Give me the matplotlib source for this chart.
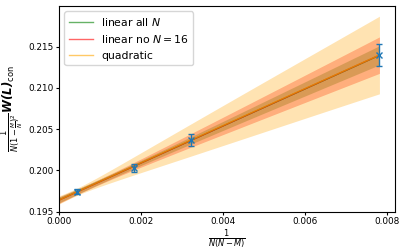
import numpy as np
import matplotlib
matplotlib.use("Agg")
import matplotlib.pyplot as plt

# data points
x_data = [0.000447, 0.00184, 0.00321, 0.00782]
y_data = [0.19742, 0.20026, 0.20369, 0.21400]
y_err = [0.0003, 0.0005, 0.0007, 0.0013]

# fit parameters (intercept, slope[, curvature]) and uncertainties
lin_all = [0.19642, 2.24]
lin_all_sig = [0.00035, 0.17]
lin_all_rho = -0.6

lin_no16 = [0.19640, 2.245]
lin_no16_sig = [0.0004, 0.31]
lin_no16_rho = -0.6

quad = [0.19642, 2.26, -2.0]
quad_sig = [0.0005, 0.72, 40.0]
quad_rho = {"ab": -0.5, "ac": 0.3, "bc": -0.5}

labels = ["linear all $N$", "linear no $N=16$", "quadratic"]
colors = ["green", "red", "orange"]

fig = plt.figure(figsize=(4.07, 2.52), dpi=100)
ax = fig.add_axes([0.145, 0.16, 0.8255, 0.816])

xs = np.linspace(0, max(x_data), 200)

def lin_band(p, s, r):
    y = p[0] + p[1] * xs
    var = s[0]**2 + xs**2 * s[1]**2 + 2 * xs * r * s[0] * s[1]
    return y, np.sqrt(var)

def quad_band(p, s, r):
    y = p[0] + p[1] * xs + p[2] * xs**2
    var = (s[0]**2 + xs**2 * s[1]**2 + xs**4 * s[2]**2
           + 2 * xs * r["ab"] * s[0] * s[1]
           + 2 * xs**2 * r["ac"] * s[0] * s[2]
           + 2 * xs**3 * r["bc"] * s[1] * s[2])
    return y, np.sqrt(var)

fits = [lin_band(lin_all, lin_all_sig, lin_all_rho),
        lin_band(lin_no16, lin_no16_sig, lin_no16_rho),
        quad_band(quad, quad_sig, quad_rho)]

for (y, s), c, lab in zip(fits, colors, labels):
    ax.plot(xs, y, color=c, alpha=0.6, lw=1.0, label=lab)
    ax.fill_between(xs, y - s, y + s, color=c, alpha=0.3, lw=0)

ax.errorbar(x_data, y_data, yerr=y_err, fmt="x", color="C0", ms=4,
            capsize=2, elinewidth=1, mew=1)

ax.set_xlim(0, 0.0082)
ax.set_ylim(0.195, 0.2199)
ax.set_xticks([0.0, 0.002, 0.004, 0.006, 0.008])
ax.set_yticks([0.195, 0.200, 0.205, 0.210, 0.215])
ax.tick_params(labelsize=6.4, length=2.5, pad=1.5)
ax.set_xlabel(r"$\frac{1}{N(N-M)}$", fontsize=8.5, labelpad=1)
ax.set_ylabel(r"$\frac{1}{N(1-\frac{M}{N})^2}\mathbfit{W(L)}_{\rm con}$", fontsize=8.5, labelpad=2)
ax.legend(loc="upper left", fontsize=7.8, framealpha=0.8, handlelength=2.2)

fig.savefig("out.png", dpi=100)
